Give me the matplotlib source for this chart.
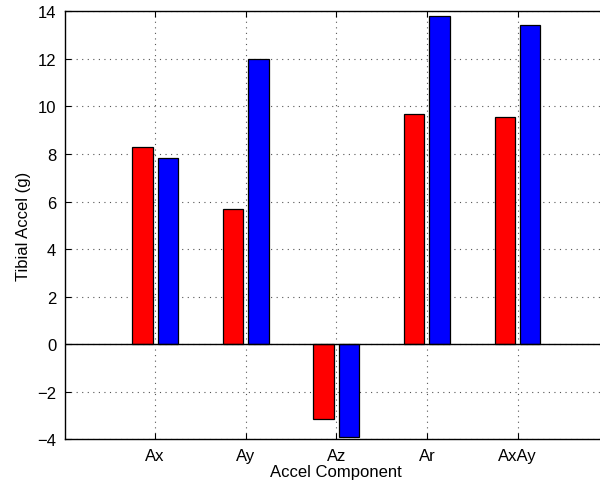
import numpy as np
import matplotlib
matplotlib.use("Agg")
import matplotlib.pyplot as plt

plt.rcParams["font.family"] = ["Liberation Sans", "DejaVu Sans"]

components = ["Ax", "Ay", "Az", "Ar", "AxAy"]
red_vals = [8.28, 5.68, -3.13, 9.66, 9.56]
blue_vals = [7.81, 11.98, -3.92, 13.8, 13.43]

fig = plt.figure(figsize=(6.0, 4.89), dpi=100)
# axes runs slightly past the right edge, as in the reference
ax = fig.add_axes([64.5 / 600, 1 - 440.3 / 489, 543.6 / 600, 428.0 / 489])

x = np.arange(1, len(components) + 1)
w = 0.225
off = 0.141
ax.bar(x - off, red_vals, w, color="#ff0000", edgecolor="black", linewidth=0.9, zorder=3)
ax.bar(x + off, blue_vals, w, color="#0000ff", edgecolor="black", linewidth=0.9, zorder=3)
ax.axhline(0, color="black", linewidth=1.0, zorder=4)

ax.set_xlim(0, 6)
ax.set_ylim(-4, 14)
ax.set_xticks(x)
ax.set_xticklabels(components)
ax.set_yticks(np.arange(-4, 15, 2))
ax.set_yticklabels([str(v).replace("-", "\u2212") for v in range(-4, 15, 2)])

ax.grid(True, linestyle=(0, (1, 4)), color="#555555", linewidth=0.8, zorder=0)
ax.tick_params(direction="in", length=4, width=0.8, top=True, right=True,
               labelsize=12, pad=6)
for s in ax.spines.values():
    s.set_linewidth(1.0)

ax.set_xlabel("Accel Component", fontsize=12, labelpad=1)
ax.set_ylabel("Tibial Accel (g)", fontsize=12, labelpad=4)

fig.savefig("out.png", dpi=100)
